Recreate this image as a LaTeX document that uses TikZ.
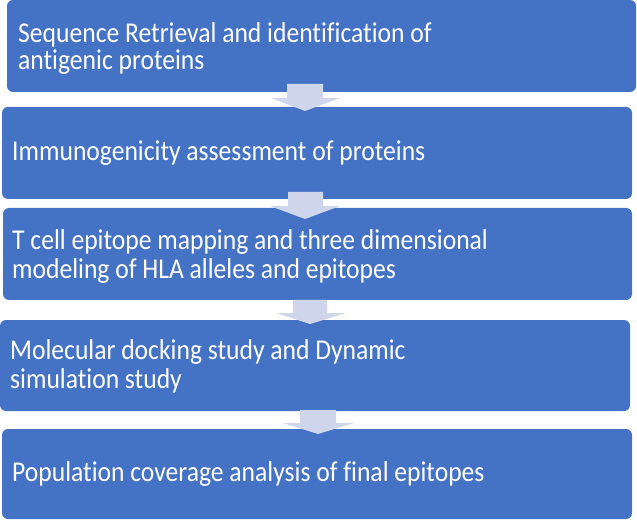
\documentclass[tikz,border=0pt]{standalone}
\usepackage{fontspec}
\setmainfont{Carlito}[Ligatures={NoCommon}]
\definecolor{boxblue}{RGB}{68,114,196}
\definecolor{arrowfill}{RGB}{207,213,234}
\newcommand{\tallstretch}[1]{\scalebox{1}[1.12]{#1}}
\begin{document}
\begin{tikzpicture}[x=1pt,y=-1pt,
  stepbox/.style={fill=boxblue,draw=none,rounded corners=6pt},
  label/.style={anchor=base west,inner sep=0pt,text=white,font=\fontsize{25.6}{30}\selectfont},
  blockarrow/.style={fill=arrowfill,draw=none}]
\useasboundingbox (0,0) rectangle (637,521);
% boxes
\path[stepbox] (7,0) rectangle (636,92) node[midway] (b1) {};
\path[stepbox] (2,107) rectangle (632,199) node[midway] (b2) {};
\path[stepbox] (3,208) rectangle (632,300) node[midway] (b3) {};
\path[stepbox] (0,320) rectangle (630,411) node[midway] (b4) {};
\path[stepbox] (2,429) rectangle (632,519) node[midway] (b5) {};
% arrows
\fill[blockarrow] (287,84) -- (323,84) -- (323,98) -- (340,98) -- (305,111) -- (271,98) -- (287,98) -- cycle;
\fill[blockarrow] (288,192) -- (323,192) -- (323,206) -- (340,206) -- (305,219) -- (270,206) -- (288,206) -- cycle;
\fill[blockarrow] (293,300) -- (327,300) -- (327,313) -- (346,313) -- (310,324) -- (276,313) -- (293,313) -- cycle;
\fill[blockarrow] (300,410) -- (336,410) -- (336,423) -- (354,423) -- (318,434) -- (283,423) -- (300,423) -- cycle;
% texts
\node[label] (t1a) at (18,43) {\tallstretch{Sequence Retrieval and identification of}};
\node[label] (t1b) at (18,70) {\tallstretch{antigenic proteins}};
\node[label] (t2) at (12,161) {\tallstretch{Immunogenicity assessment of proteins}};
\node[label] (t3a) at (12,250) {\tallstretch{T cell epitope mapping and three dimensional}};
\node[label] (t3b) at (12,279) {\tallstretch{modeling of HLA alleles and epitopes}};
\node[label] (t4a) at (10,359) {\tallstretch{Molecular docking study and Dynamic}};
\node[label] (t4b) at (10,388) {\tallstretch{simulation study}};
\node[label] (t5) at (12,481) {\tallstretch{Population coverage analysis of final epitopes}};
\end{tikzpicture}
\end{document}
